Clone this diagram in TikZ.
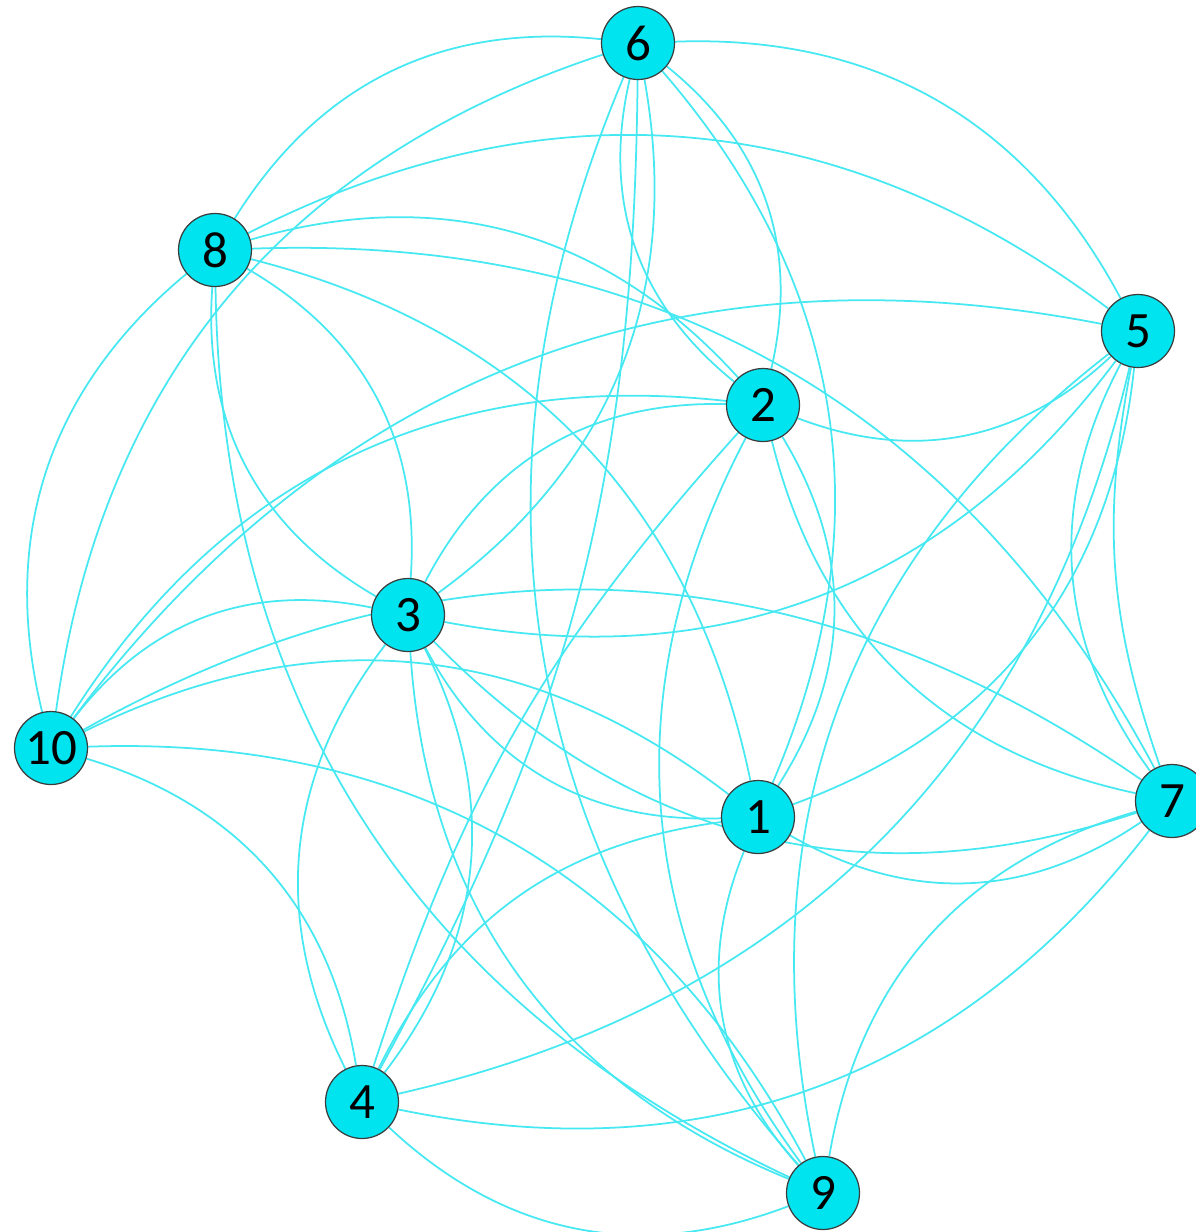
\documentclass[tikz,border=0pt]{standalone}
\usepackage{fontspec}
\setmainfont{Carlito}
\usetikzlibrary{backgrounds}
\definecolor{nodefill}{RGB}{0,228,240}
\definecolor{edgecol}{RGB}{70,232,242}
\definecolor{nodeline}{RGB}{60,60,60}
\tikzset{
  vtx/.style={circle,draw=nodeline,line width=0.7pt,fill=nodefill,minimum size=1.46cm,inner sep=0pt,font=\fontsize{29}{29}\selectfont},
  edge/.style={draw=edgecol,line width=1pt},
  bl/.style={bend left=32},
  br/.style={bend right=32}
}
\begin{document}
\begin{tikzpicture}
\useasboundingbox (0,0) rectangle (23.92,-24.64);
\node[vtx] (n6) at (12.76,-0.86) {6};
\node[vtx] (n8) at (4.30,-5.00) {8};
\node[vtx] (n5) at (22.76,-6.62) {5};
\node[vtx] (n2) at (15.26,-8.10) {2};
\node[vtx] (n3) at (8.16,-12.30) {3};
\node[vtx] (n10) at (1.02,-14.96) {10};
\node[vtx] (n1) at (15.16,-16.34) {1};
\node[vtx] (n7) at (23.44,-16.02) {7};
\node[vtx] (n4) at (7.24,-22.04) {4};
\node[vtx] (n9) at (16.46,-23.86) {9};
\begin{scope}[on background layer]
\draw[edge] (n8) to[bl] (n6);
\draw[edge] (n10) to[bl] (n6);
\draw[edge] (n6) to[bl] (n5);
\draw[edge] (n8) to[bl] (n5);
\draw[edge] (n10) to[bl] (n5);
\draw[edge] (n6) to[bl] (n2);
\draw[edge] (n6) to[br] (n2);
\draw[edge] (n6) to[bl] (n1);
\draw[edge] (n2) to[bl] (n1);
\draw[edge] (n6) to[br] (n9);
\draw[edge] (n6) to[bend left=14] (n4);
\draw[edge] (n3) to[br] (n6);
\draw[edge] (n8) to[bl] (n3);
\draw[edge] (n8) to[br] (n3);
\draw[edge] (n8) to[bl] (n2);
\draw[edge] (n8) to[bl] (n7);
\draw[edge] (n8) to[bl] (n1);
\draw[edge] (n8) to[br] (n9);
\draw[edge] (n8) to[br] (n10);
\draw[edge] (n5) to[bend right=15] (n7);
\draw[edge] (n5) to[br] (n7);
\draw[edge] (n5) to[bl] (n2);
\draw[edge] (n3) to[br] (n5);
\draw[edge] (n5) to[bl] (n1);
\draw[edge] (n5) to[br] (n9);
\draw[edge] (n5) to[bl] (n4);
\draw[edge] (n10) to[bl] (n3);
\draw[edge] (n10) to[bl] (n7);
\draw[edge] (n10) to[bl] (n2);
\draw[edge] (n10) to[bl] (n1);
\draw[edge] (n10) to[bl] (n9);
\draw[edge] (n10) to[bl] (n4);
\draw[edge] (n3) to[bl] (n4);
\draw[edge] (n3) to[br] (n4);
\draw[edge] (n3) to[br] (n1);
\draw[edge] (n3) to[br] (n7);
\draw[edge] (n4) to[bend left=28] (n1);
\draw[edge] (n4) to[br] (n7);
\draw[edge] (n4) to[br] (n9);
\draw[edge] (n1) to[br] (n7);
\draw[edge] (n9) to[bl] (n7);
\draw[edge] (n1) to[br] (n9);
\draw[edge] (n2) to[br] (n9);
\draw[edge] (n2) to[bend right=12] (n4);
\draw[edge] (n2) to[br] (n7);
\draw[edge] (n3) to[bl] (n2);
\draw[edge] (n3) to[br] (n9);
\end{scope}
\end{tikzpicture}
\end{document}
